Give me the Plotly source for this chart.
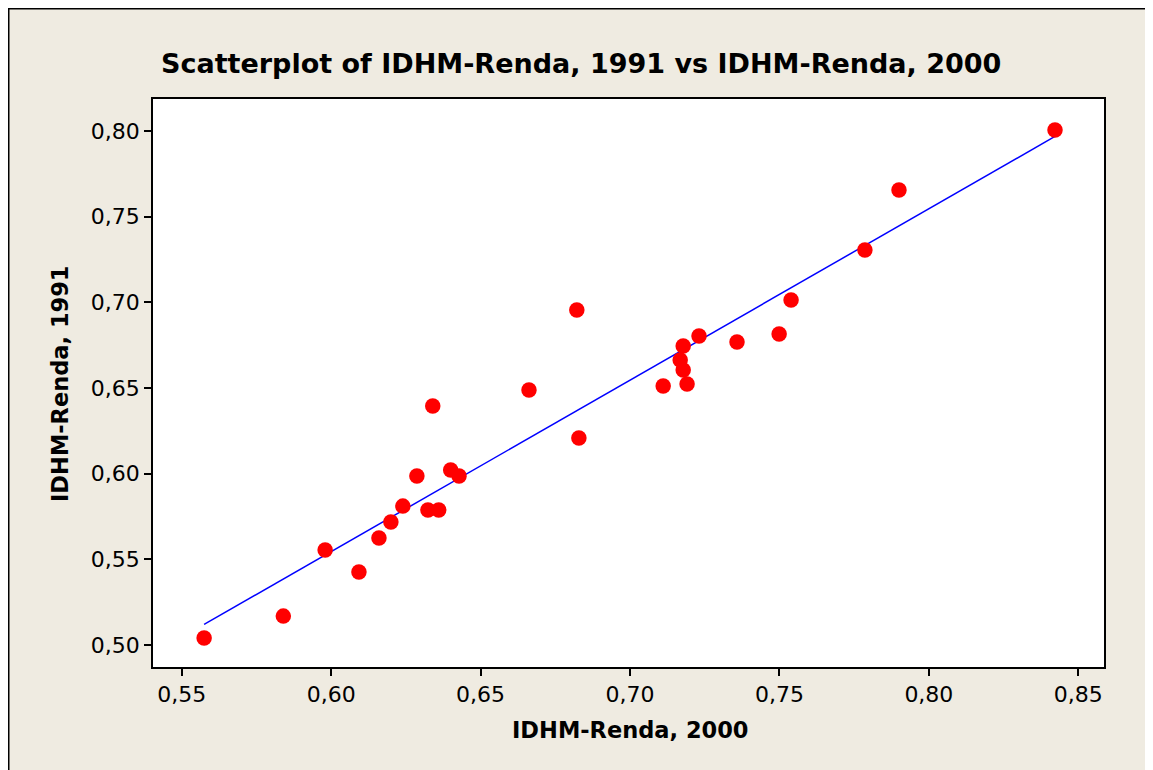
import numpy as np
import plotly.graph_objects as go

# IDHM-Renda 2000 (x) and 1991 (y) values
idhm_2000 = [0.5575, 0.5840, 0.5980, 0.6093, 0.6160, 0.6200, 0.6240, 0.6287,
             0.6324, 0.6360, 0.6340, 0.6400, 0.6428, 0.6662, 0.6822, 0.6829,
             0.7111, 0.7168, 0.7178, 0.7178, 0.7191, 0.7231, 0.7358, 0.7499,
             0.7539, 0.7786, 0.7900, 0.8422]
idhm_1991 = [0.5041, 0.5169, 0.5555, 0.5426, 0.5625, 0.5718, 0.5811, 0.5987,
             0.5788, 0.5788, 0.6395, 0.6022, 0.5987, 0.6489, 0.6956, 0.6208,
             0.6512, 0.6664, 0.6745, 0.6605, 0.6524, 0.6804, 0.6769, 0.6816,
             0.7014, 0.7306, 0.7656, 0.8006]

x_ticks = [0.55, 0.60, 0.65, 0.70, 0.75, 0.80, 0.85]
y_ticks = [0.50, 0.55, 0.60, 0.65, 0.70, 0.75, 0.80]

title_text = "Scatterplot of IDHM-Renda, 1991 vs IDHM-Renda, 2000"
x_title = "IDHM-Renda, 2000"
y_title = "IDHM-Renda, 1991"

x = np.array(idhm_2000)
y = np.array(idhm_1991)
slope, intercept = np.polyfit(x, y, 1)
fit_x = [x.min(), x.max()]
fit_y = [intercept + slope * v for v in fit_x]

FONT = "DejaVu Sans"
BG = "#EFEBE1"

fig = go.Figure()
fig.add_trace(go.Scatter(x=fit_x, y=fit_y, mode="lines",
                         line=dict(color="#0000FF", width=1.5),
                         showlegend=False, hoverinfo="skip"))
fig.add_trace(go.Scatter(x=idhm_2000, y=idhm_1991, mode="markers",
                         marker=dict(color="#FF0000", size=15.5, line=dict(width=0)),
                         showlegend=False))

W, H = 1153, 762
L, R, T, B = 145, 57, 91, 103
pw, ph = W - L - R, H - T - B

def px(xp):
    return (xp - L) / pw

def py(yp):
    return (H - B - yp) / ph

axis_common = dict(showline=True, linecolor="black", linewidth=1.5, mirror=True,
                   ticks="outside", ticklen=7, tickwidth=1.5, tickcolor="black",
                   showgrid=False, zeroline=False, tickformat=".2f",
                   tickfont=dict(family=FONT, size=22, color="black"))

fig.update_layout(
    width=W, height=H,
    margin=dict(l=L, r=R, t=T, b=B, autoexpand=False),
    paper_bgcolor=BG, plot_bgcolor="white",
    separators=",.",
    xaxis=dict(range=[0.5404, 0.8586], tickvals=x_ticks, **axis_common),
    yaxis=dict(range=[0.4872, 0.8187], tickvals=y_ticks, **axis_common),
    annotations=[
        dict(text="<b>" + title_text + "</b>", xref="paper", yref="paper",
             x=px(573), y=py(55), showarrow=False, xanchor="center", yanchor="middle",
             font=dict(family=FONT, size=27, color="black")),
        dict(text="<b>" + x_title + "</b>", xref="paper", yref="paper",
             x=px(622), y=py(722), showarrow=False, xanchor="center", yanchor="middle",
             font=dict(family=FONT, size=22.5, color="black")),
        dict(text="<b>" + y_title + "</b>", xref="paper", yref="paper",
             x=px(52), y=py(376), showarrow=False, xanchor="center", yanchor="middle",
             textangle=-90, font=dict(family=FONT, size=22.5, color="black")),
    ],
    shapes=[
        dict(type="line", xref="paper", yref="paper", x0=px(0.5), x1=px(0.5),
             y0=py(0), y1=py(H + 10), line=dict(color="black", width=2)),
        dict(type="line", xref="paper", yref="paper", x0=px(0), x1=px(W + 10),
             y0=py(0.5), y1=py(0.5), line=dict(color="black", width=2)),
    ],
)

fig.write_html("out.html")
